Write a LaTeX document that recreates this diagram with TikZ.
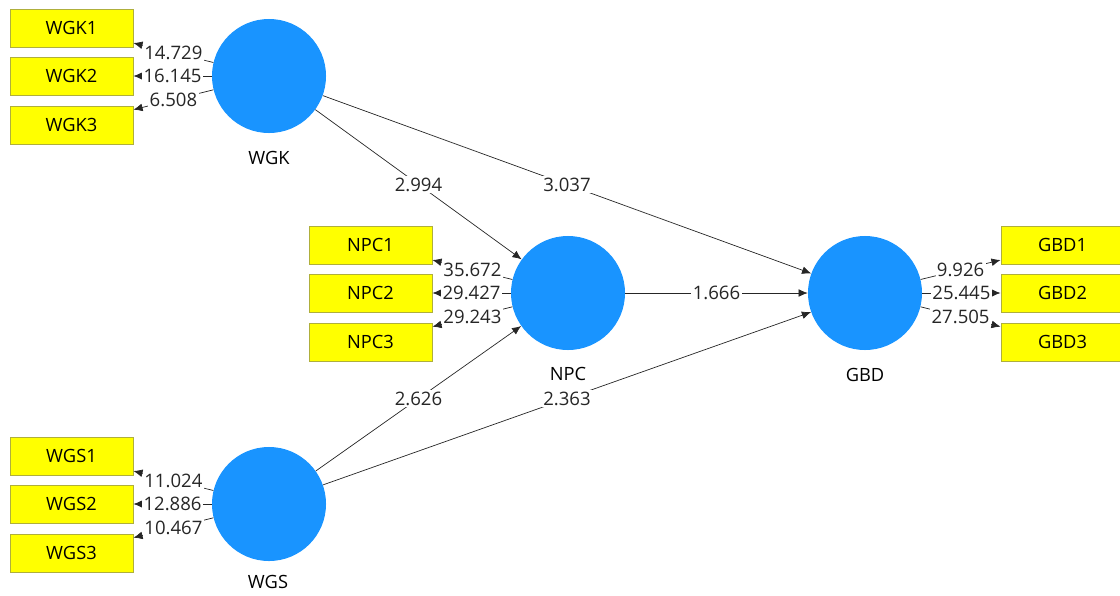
\documentclass[tikz,border=0pt]{standalone}
\usepackage{fontspec}
\setmainfont{Open Sans}
\usetikzlibrary{arrows.meta}
\definecolor{lvblue}{RGB}{25,148,255}
\definecolor{indyellow}{RGB}{255,255,0}
\definecolor{indborder}{RGB}{175,175,60}
\begin{document}
\begin{tikzpicture}[x=0.025cm, y=-0.025cm,
    latent/.style={circle, fill=lvblue, draw=none, minimum size=2.85cm, inner sep=0pt},
    indicator/.style={rectangle, fill=indyellow, draw=indborder, line width=0.6pt, minimum width=3.075cm, minimum height=0.95cm, inner sep=0pt, font=\fontsize{13}{15}\selectfont},
    lvlabel/.style={font=\fontsize{13}{15}\selectfont},
    relarrow/.style={draw=black!85, line width=0.5pt, -{Latex[length=6.5pt,width=5.5pt]}},
    coef/.style={fill=white, inner sep=1pt, font=\fontsize{13.2}{15}\selectfont, text=black!85}]
    \useasboundingbox (0,0) rectangle (1120,595);

    % latent variables
    \node[latent] (WGK) at (269,76) {};
    \node[latent] (NPC) at (568,293) {};
    \node[latent] (GBD) at (865,293) {};
    \node[latent] (WGS) at (269,504) {};
    \node[lvlabel] (WGKlab) at (269,158) {WGK};
    \node[lvlabel] (NPClab) at (568,374) {NPC};
    \node[lvlabel] (GBDlab) at (865,375) {GBD};
    \node[lvlabel] (WGSlab) at (268,582) {WGS};

    % indicators
    \node[indicator] (WGK1) at (71.5,28) {WGK1};
    \node[indicator] (WGK2) at (71.5,76) {WGK2};
    \node[indicator] (WGK3) at (71.5,125) {WGK3};
    \node[indicator] (NPC1) at (370.5,245) {NPC1};
    \node[indicator] (NPC2) at (370.5,293) {NPC2};
    \node[indicator] (NPC3) at (370.5,342) {NPC3};
    \node[indicator] (GBD1) at (1062.5,245) {GBD1};
    \node[indicator] (GBD2) at (1062.5,293) {GBD2};
    \node[indicator] (GBD3) at (1062.5,342) {GBD3};
    \node[indicator] (WGS1) at (71.5,456) {WGS1};
    \node[indicator] (WGS2) at (71.5,504) {WGS2};
    \node[indicator] (WGS3) at (71.5,553) {WGS3};

    % outer loadings
    \draw[relarrow] (WGK) -- node[coef] {14.729} (WGK1);
    \draw[relarrow] (WGK) -- node[coef] {16.145} (WGK2);
    \draw[relarrow] (WGK) -- node[coef] {6.508} (WGK3);
    \draw[relarrow] (NPC) -- node[coef] {35.672} (NPC1);
    \draw[relarrow] (NPC) -- node[coef] {29.427} (NPC2);
    \draw[relarrow] (NPC) -- node[coef] {29.243} (NPC3);
    \draw[relarrow] (GBD) -- node[coef] {9.926} (GBD1);
    \draw[relarrow] (GBD) -- node[coef] {25.445} (GBD2);
    \draw[relarrow] (GBD) -- node[coef] {27.505} (GBD3);
    \draw[relarrow] (WGS) -- node[coef] {11.024} (WGS1);
    \draw[relarrow] (WGS) -- node[coef] {12.886} (WGS2);
    \draw[relarrow] (WGS) -- node[coef] {10.467} (WGS3);

    % inner model
    \draw[relarrow] (WGK) -- node[coef] {2.994} (NPC);
    \draw[relarrow] (WGK) -- node[coef] {3.037} (GBD);
    \draw[relarrow] (NPC) -- node[coef] {1.666} (GBD);
    \draw[relarrow] (WGS) -- node[coef] {2.626} (NPC);
    \draw[relarrow] (WGS) -- node[coef] {2.363} (GBD);
\end{tikzpicture}
\end{document}
